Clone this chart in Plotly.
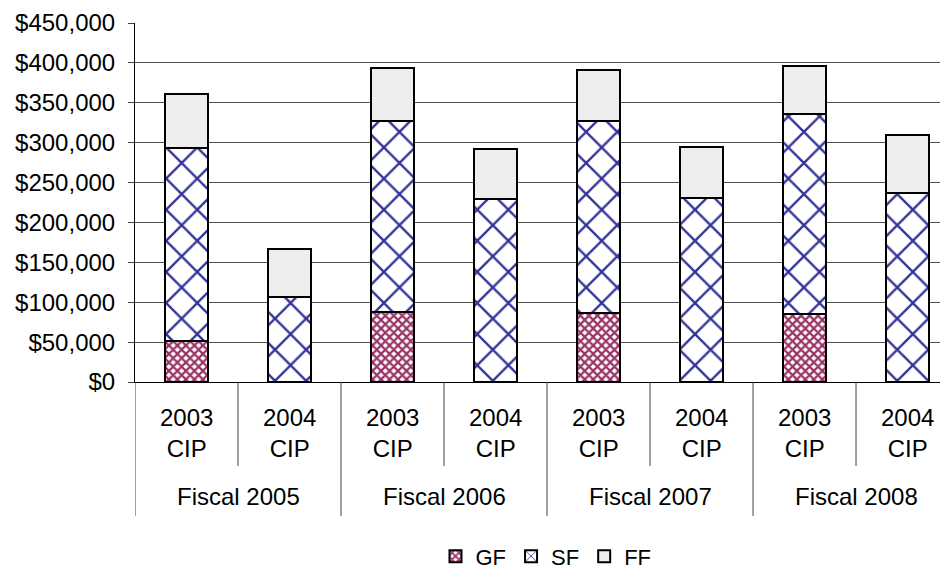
import plotly.graph_objects as go

# ---- data ----
groups = ["Fiscal 2005", "Fiscal 2006", "Fiscal 2007", "Fiscal 2008"]
subcats = ["2003<br>CIP", "2004<br>CIP"]
categories = [f"{g} | {s.replace('<br>', ' ')}" for g in groups for s in subcats]

gf = [51500, 0, 88200, 0, 87000, 0, 85700, 0]
sf = [241900, 106900, 238700, 229900, 240700, 231100, 250000, 237400]
ff = [67000, 59900, 67200, 62100, 63900, 63400, 60900, 72200]

y_ticks = list(range(0, 450001, 50000))

FONT = "Liberation Sans, Arial, sans-serif"

fig = go.Figure()
fig.add_trace(go.Bar(
    name="GF", x=categories, y=gf,
    marker=dict(color="white", line=dict(color="black", width=2),
                pattern=dict(shape="x", fgcolor="#993366", bgcolor="white", size=6,
                             solidity=0.6, fgopacity=1)),
))
fig.add_trace(go.Bar(
    name="SF", x=categories, y=sf,
    marker=dict(color="white", line=dict(color="black", width=2),
                pattern=dict(shape="x", fgcolor="#333399", bgcolor="white", size=22,
                             solidity=0.2, fgopacity=1)),
))
fig.add_trace(go.Bar(
    name="FF", x=categories, y=ff,
    marker=dict(color="#EEEEEE", line=dict(color="black", width=2)),
))

n = len(categories)
shapes = []
for k in range(n + 1):
    xb = k - 0.5
    y1 = -0.373 if k % 2 == 0 else -0.234
    shapes.append(dict(type="line", xref="x", yref="paper", x0=xb, x1=xb, y0=0, y1=y1,
                       line=dict(color="#404040", width=1)))

annotations = []
for i, c in enumerate(categories):
    annotations.append(dict(x=i, y=-0.142, xref="x", yref="paper", text=subcats[i % 2],
                            showarrow=False, yanchor="middle", xanchor="center",
                            font=dict(family=FONT, size=24, color="black")))
for gi, g in enumerate(groups):
    annotations.append(dict(x=2 * gi + 0.5, y=-0.320, xref="x", yref="paper", text=g,
                            showarrow=False, yanchor="middle", xanchor="center",
                            font=dict(family=FONT, size=24, color="black")))

fig.update_layout(
    width=948, height=573, autosize=False,
    barmode="stack", bargap=0.59,
    plot_bgcolor="white", paper_bgcolor="white",
    margin=dict(l=127, r=8, t=15, b=199, autoexpand=False),
    font=dict(family=FONT, size=24, color="black"),
    shapes=shapes, annotations=annotations,
    legend=dict(orientation="h", xref="container", yref="container",
                x=0.5675, y=0.043, xanchor="center", yanchor="middle",
                traceorder="normal",
                font=dict(family=FONT, size=22, color="black"),
                itemwidth=30, tracegroupgap=0),
)
fig.update_xaxes(type="category", categoryorder="array", categoryarray=categories,
                 range=[-0.5, 7.393], showticklabels=False, ticks="", automargin=False,
                 showline=True, linecolor="black", linewidth=1, showgrid=False, zeroline=False)
fig.update_yaxes(range=[0, 450000], tickvals=y_ticks, tickformat="$,.0f", automargin=False,
                 showgrid=True, gridcolor="#505050", gridwidth=1,
                 showline=True, linecolor="black", linewidth=1,
                 ticks="outside", ticklen=6, tickcolor="#404040",
                 zeroline=False, ticklabelstandoff=8,
                 tickfont=dict(family=FONT, size=24, color="black"))

fig.write_html("out.html")
